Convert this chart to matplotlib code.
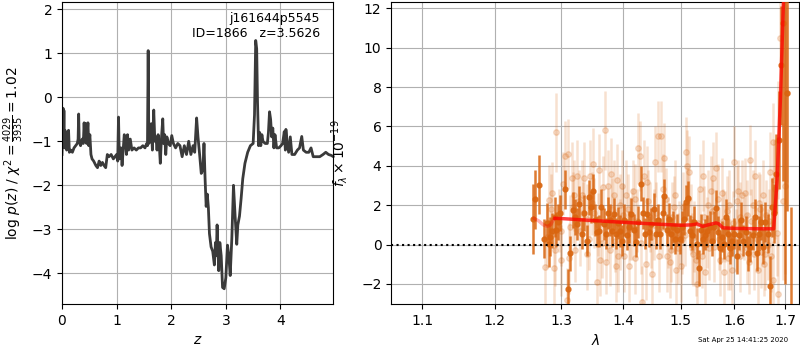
import numpy as np
import matplotlib
matplotlib.use('Agg')
import matplotlib.pyplot as plt
from matplotlib.ticker import NullLocator

# ---- p(z) curve ----
pz_z = [0.00, 0.01, 0.02, 0.025, 0.035, 0.045, 0.055, 0.065, 0.075, 0.085,
        0.095, 0.105, 0.12, 0.135, 0.16, 0.19, 0.22, 0.25, 0.28, 0.295,
        0.305, 0.315, 0.34, 0.37, 0.39, 0.405, 0.42, 0.435, 0.45, 0.475,
        0.49, 0.51, 0.53, 0.55, 0.58, 0.62, 0.65, 0.68, 0.71, 0.74,
        0.77, 0.80, 0.83, 0.86, 0.90, 0.94, 0.97, 1.00, 1.02, 1.035,
        1.05, 1.08, 1.10, 1.14, 1.16, 1.18, 1.20, 1.22, 1.25, 1.28,
        1.32, 1.36, 1.40, 1.44, 1.48, 1.52, 1.55, 1.565, 1.578, 1.59,
        1.61, 1.635, 1.655, 1.68, 1.70, 1.72, 1.74, 1.76, 1.78, 1.80,
        1.82, 1.845, 1.86, 1.88, 1.90, 1.92, 1.95, 1.98, 2.01, 2.04,
        2.08, 2.12, 2.16, 2.20, 2.24, 2.28, 2.32, 2.36, 2.40, 2.43,
        2.465, 2.49, 2.52, 2.55, 2.58, 2.60, 2.62, 2.64, 2.66, 2.68,
        2.70, 2.73, 2.76, 2.79, 2.81, 2.825, 2.84, 2.87, 2.89, 2.915,
        2.94, 2.97, 3.00, 3.03, 3.055, 3.08, 3.11, 3.14, 3.17, 3.20,
        3.22, 3.25, 3.28, 3.31, 3.35, 3.40, 3.45, 3.50, 3.525, 3.547,
        3.565, 3.58, 3.60, 3.62, 3.64, 3.66, 3.68, 3.72, 3.76, 3.78,
        3.80, 3.82, 3.84, 3.86, 3.88, 3.90, 3.93, 3.97, 4.01, 4.04,
        4.07, 4.09, 4.10, 4.12, 4.15, 4.18, 4.21, 4.26, 4.31, 4.35,
        4.39, 4.42, 4.47, 4.52, 4.56, 4.60, 4.65, 4.72, 4.78, 4.83,
        4.88, 4.93, 4.97]
pz_logp = [-1.30, -0.90, -0.25, -1.10, -0.30, -1.15, -0.75, -1.15, -0.85, -1.20,
           -0.80, -1.15, -0.75, -1.25, -1.20, -1.25, -1.15, -1.10, -1.05, -0.95,
           -0.38, -1.00, -1.10, -0.95, -1.05, -0.58, -1.00, -0.60, -1.05, -0.58,
           -1.10, -0.85, -1.30, -1.40, -1.45, -1.55, -1.60, -1.45, -1.55, -1.48,
           -1.55, -1.60, -1.30, -1.35, -1.30, -1.40, -1.35, -1.30, -1.45, -0.45,
           -1.40, -1.15, -1.55, -0.85, -0.95, -1.30, -0.85, -1.20, -0.95, -1.20,
           -1.15, -1.20, -1.15, -1.15, -1.10, -1.15, -1.05, -1.10, 1.06, -1.05,
           -1.00, -0.60, -1.20, -0.29, -1.00, -0.90, -1.20, -0.85, -1.05, -1.50,
           -0.95, -0.49, -1.05, -0.85, -1.30, -0.90, -1.05, -1.10, -0.87, -1.05,
           -1.15, -1.05, -1.10, -1.35, -1.10, -1.30, -1.00, -1.30, -1.10, -1.25,
           -0.47, -0.90, -1.30, -1.73, -1.65, -1.05, -1.85, -2.48, -2.20, -2.50,
           -3.10, -3.40, -3.50, -3.81, -3.30, -3.60, -2.90, -3.94, -3.30, -3.60,
           -4.32, -4.35, -4.10, -3.36, -3.60, -4.05, -3.20, -2.00, -2.70, -3.34,
           -2.90, -2.70, -2.30, -1.85, -1.50, -1.25, -1.10, -1.05, -0.40, 1.29,
           1.10, -0.10, -1.10, -0.80, -1.10, -0.85, -1.00, -1.05, -1.05, -0.80,
           -0.33, -0.50, -0.90, -0.70, -1.15, -0.85, -1.15, -1.15, -1.10, -1.05,
           -0.78, -1.20, -0.73, -1.00, -1.25, -0.90, -1.30, -1.30, -1.20, -1.15,
           -0.89, -1.20, -1.25, -1.25, -1.15, -1.35, -1.35, -1.35, -1.30, -1.25,
           -1.30, -1.32, -1.35]

# ---- spectrum, binned points (dark) ----
sp_wave = [1.257, 1.260, 1.266, 1.273, 1.277, 1.280, 1.283, 1.286, 1.290, 1.292,
           1.295, 1.298, 1.306, 1.310, 1.314, 1.318, 1.321, 1.325, 1.328, 1.332,
           1.336, 1.340, 1.343, 1.347, 1.350, 1.354, 1.357, 1.360, 1.364, 1.368,
           1.371, 1.375, 1.378, 1.381, 1.384, 1.388, 1.392, 1.395, 1.398, 1.402,
           1.406, 1.410, 1.414, 1.418, 1.422, 1.425, 1.430, 1.433, 1.437, 1.440,
           1.444, 1.448, 1.452, 1.456, 1.460, 1.464, 1.468, 1.471, 1.475, 1.479,
           1.483, 1.487, 1.490, 1.494, 1.498, 1.502, 1.506, 1.510, 1.513, 1.517,
           1.521, 1.525, 1.529, 1.533, 1.537, 1.541, 1.545, 1.549, 1.553, 1.557,
           1.561, 1.565, 1.568, 1.572, 1.576, 1.580, 1.584, 1.588, 1.592, 1.596,
           1.600, 1.605, 1.609, 1.613, 1.617, 1.622, 1.626, 1.631, 1.635, 1.639,
           1.643, 1.648, 1.652, 1.656, 1.660, 1.665, 1.669, 1.673, 1.678, 1.682,
           1.687, 1.691, 1.695, 1.700, 1.704, 1.712]
sp_flux = [1.30, 2.30, 3.05, 0.30, 1.10, 0.05, 0.40, 0.70, 1.40, 0.75,
           1.15, 1.60, 2.80, -2.25, -0.45, 1.75, 1.40, 1.05, 2.05, 0.55,
           1.60, 0.20, 2.40, 1.90, 2.70, 1.25, 0.65, 0.70, 1.90, 1.05,
           0.55, 1.60, 1.25, 0.70, 1.55, 0.55, 1.10, 0.70, 0.20, 1.25,
           0.50, 0.90, 1.55, 0.75, 0.15, 1.15, 3.10, 1.60, 0.55, 1.55,
           0.65, 1.05, 1.80, 0.55, 1.25, 0.55, 1.60, 2.45, 0.75, 1.30,
           0.55, 0.90, 0.30, 0.75, 0.30, 0.90, 1.30, 2.15, 2.35, 0.70,
           0.50, 1.15, 0.05, -1.20, 0.75, 0.30, 0.50, 0.70, 0.90, 0.20,
           0.90, 1.85, 0.65, -0.20, 0.40, 0.05, 1.40, 0.55, -0.20, 0.20,
           0.55, -0.60, 0.50, 1.25, 0.20, 0.65, -0.45, -0.10, 0.50, 1.40,
           -0.45, 0.55, 1.15, -0.10, 1.15, 0.55, -2.10, 1.90, 1.60, 3.60,
           5.30, 9.10, 11.25, 14.0, 7.70, -3.50]
sp_err = [1.80, 1.50, 1.50, 1.00, 1.00, 1.20, 1.00, 0.90, 1.00, 0.90,
          0.90, 0.90, 1.00, 1.00, 0.90, 0.90, 0.90, 0.80, 0.90, 0.80,
          0.90, 0.80, 0.90, 0.80, 0.90, 0.80, 0.80, 0.80, 0.90, 0.80,
          0.80, 0.80, 0.80, 0.80, 0.80, 0.80, 0.80, 0.80, 0.80, 0.80,
          0.80, 0.80, 0.80, 0.80, 0.80, 0.80, 0.90, 0.80, 0.80, 0.80,
          0.80, 0.80, 0.80, 0.80, 0.80, 0.80, 0.80, 0.90, 0.80, 0.80,
          0.80, 0.80, 0.80, 0.80, 0.80, 0.80, 0.80, 0.90, 0.90, 0.80,
          0.80, 0.80, 0.80, 0.90, 0.80, 0.80, 0.80, 0.80, 0.80, 0.80,
          0.80, 0.90, 0.80, 0.80, 0.80, 0.80, 0.90, 0.80, 0.80, 0.80,
          0.80, 0.90, 0.80, 0.90, 0.80, 0.80, 0.90, 0.80, 0.80, 0.90,
          0.90, 0.90, 0.90, 0.90, 1.00, 1.00, 1.50, 1.50, 1.50, 2.00,
          2.50, 3.00, 8.00, 16.0, 6.00, 5.40]

# ---- spectrum, unbinned points (light) ----
raw_wave = [1.275, 1.280, 1.284, 1.288, 1.290, 1.292, 1.300, 1.300, 1.305, 1.310,
            1.312, 1.316, 1.318, 1.320, 1.325, 1.330, 1.332, 1.336, 1.340, 1.340,
            1.345, 1.350, 1.352, 1.356, 1.360, 1.362, 1.365, 1.370, 1.374, 1.375,
            1.378, 1.380, 1.384, 1.388, 1.390, 1.392, 1.395, 1.398, 1.402, 1.405,
            1.408, 1.410, 1.415, 1.420, 1.420, 1.425, 1.428, 1.432, 1.435, 1.438,
            1.440, 1.445, 1.450, 1.452, 1.455, 1.460, 1.462, 1.465, 1.468, 1.470,
            1.475, 1.478, 1.480, 1.485, 1.490, 1.492, 1.495, 1.500, 1.502, 1.505,
            1.510, 1.512, 1.515, 1.518, 1.520, 1.525, 1.528, 1.530, 1.535, 1.540,
            1.545, 1.548, 1.550, 1.555, 1.560, 1.562, 1.565, 1.568, 1.572, 1.576,
            1.580, 1.582, 1.585, 1.590, 1.592, 1.595, 1.600, 1.605, 1.610, 1.610,
            1.615, 1.620, 1.625, 1.625, 1.630, 1.635, 1.638, 1.640, 1.645, 1.650,
            1.652, 1.655, 1.660, 1.662, 1.665, 1.670, 1.675, 1.675, 1.680, 1.685,
            1.685, 1.690, 1.695, 1.700, 1.705,
            1.278, 1.286, 1.296, 1.303, 1.309, 1.313, 1.322, 1.328, 1.334, 1.343,
            1.348, 1.358, 1.367, 1.372, 1.382, 1.386, 1.394, 1.400, 1.412, 1.417,
            1.423, 1.430, 1.442, 1.447, 1.457, 1.466, 1.473, 1.483, 1.488, 1.497,
            1.507, 1.514, 1.522, 1.532, 1.538, 1.543, 1.552, 1.558, 1.570, 1.578,
            1.588, 1.598, 1.603, 1.607, 1.618, 1.628, 1.633, 1.643, 1.648, 1.658,
            1.668, 1.672, 1.678, 1.683]
raw_flux = [-1.15, 2.25, 1.80, -1.20, -0.30, 5.70, 0.70, -0.80, 4.50, 4.60,
            -0.70, 3.40, 1.90, 2.50, 3.50, 0.70, 2.50, 3.40, -0.50, 1.30,
            3.50, 4.10, 1.60, -1.90, 3.80, -0.80, 0.10, 5.80, 3.00, 1.00,
            -0.30, 3.60, 2.50, -1.10, 3.30, -0.60, 0.50, 3.00, -0.60, 2.50,
            1.80, -1.10, 1.00, 2.30, -0.70, 4.90, 4.50, -2.90, 3.50, -1.00,
            3.20, 1.40, -1.50, 1.00, 4.20, 5.50, -0.60, 5.50, 2.80, 4.40,
            -0.60, 0.60, -0.90, 1.40, 2.50, -1.30, -0.20, -1.10, 0.30, 1.90,
            4.70, 4.00, 3.70, 1.30, -0.20, 0.40, -0.80, -2.00, 2.80, 3.50,
            -1.40, 0.60, 2.00, 2.70, 3.40, -0.10, 3.90, 2.30, -0.80, 2.60,
            -1.40, 0.90, 1.70, 2.00, -0.50, -1.30, 4.20, 2.20, -0.60, 1.40,
            2.50, 2.60, 1.50, -0.20, 4.30, 2.00, -0.50, 3.50, -1.30, 1.80,
            -0.40, 2.50, -0.50, 1.50, 0.00, 3.70, 5.20, -1.80, 2.80, 5.30,
            -2.50, 10.50, 2.20, 3.00, 7.70,
            0.40, 2.60, 1.20, 3.10, -2.80, 0.90, -0.30, 2.20, 1.60, 0.30,
            2.10, 1.00, 2.90, -0.90, 1.80, 0.20, 2.00, 1.50, 0.80, 2.70,
            1.20, 0.10, 2.20, 0.40, 1.60, 0.90, 2.30, -0.30, 1.90, 0.60,
            0.50, 2.30, -0.50, 1.10, -0.60, 1.40, -0.20, 1.70, 0.30, 1.20,
            -0.70, 1.10, 0.20, 2.70, 0.80, -0.90, 1.20, 0.30, 2.10, -1.00,
            1.20, -0.60, 3.30, 0.60]
raw_err = [2.0, 1.8, 1.8, 1.8, 1.8, 2.0, 1.8, 1.8, 1.8, 1.8,
           1.8, 1.8, 1.8, 1.8, 1.8, 1.8, 1.8, 1.8, 1.8, 1.8,
           1.8, 1.8, 1.8, 1.8, 1.8, 1.8, 1.8, 2.0, 1.8, 1.8,
           1.8, 1.8, 1.8, 1.8, 1.8, 1.8, 1.8, 1.8, 1.8, 1.8,
           1.8, 1.8, 1.8, 1.8, 1.8, 1.8, 1.8, 1.8, 1.8, 1.8,
           1.8, 1.8, 1.8, 1.8, 1.8, 1.8, 1.8, 1.8, 1.8, 1.8,
           1.8, 1.8, 1.8, 1.8, 1.8, 1.8, 1.8, 1.8, 1.8, 1.8,
           1.8, 1.8, 1.8, 1.8, 1.8, 1.8, 1.8, 1.8, 1.8, 1.8,
           1.8, 1.8, 1.8, 1.8, 1.8, 1.8, 1.8, 1.8, 1.8, 1.8,
           1.8, 1.8, 1.8, 1.8, 1.8, 1.8, 1.8, 1.8, 1.8, 1.8,
           1.8, 1.8, 1.8, 1.8, 1.8, 1.8, 1.8, 1.8, 1.8, 1.8,
           1.8, 1.8, 1.8, 1.8, 1.8, 2.0, 2.0, 2.0, 2.5, 3.0,
           3.0, 4.0, 4.0, 4.5, 4.5,
           1.6, 1.6, 1.6, 1.6, 1.6, 1.6, 1.6, 1.6, 1.6, 1.6,
           1.6, 1.6, 1.6, 1.6, 1.6, 1.6, 1.6, 1.6, 1.6, 1.6,
           1.6, 1.6, 1.6, 1.6, 1.6, 1.6, 1.6, 1.6, 1.6, 1.6,
           1.6, 1.6, 1.6, 1.6, 1.6, 1.6, 1.6, 1.6, 1.6, 1.6,
           1.6, 1.6, 1.6, 1.6, 1.6, 1.6, 1.6, 1.6, 1.6, 1.6,
           1.6, 1.8, 2.0, 2.2]

# ---- best-fit model ----
model_edge_wave = [1.258, 1.265, 1.272, 1.278, 1.283, 1.288, 1.290]
model_edge_flux = [1.33, 1.20, 1.00, 0.92, 1.00, 1.28, 1.33]
model_wave = [1.290, 1.300, 1.350, 1.400, 1.450, 1.500, 1.520, 1.530, 1.540,
              1.550, 1.565, 1.570, 1.578, 1.600, 1.650, 1.677, 1.684, 1.6905,
              1.697, 1.700]
model_flux = [1.33, 1.32, 1.22, 1.13, 1.05, 0.98, 1.00, 1.05, 0.92,
              1.00, 1.10, 1.05, 0.85, 0.82, 0.80, 0.80, 3.30, 7.30,
              12.5, 15.0]

target = 'j161644p5545'
obj_id = 1866
zbest = 3.5626
chi2, dof = 4029, 3935
stamp = 'Sat Apr 25 14:41:25 2020'

col = '#d9650f'

fig = plt.figure(figsize=(8, 3.5), dpi=100)
ax1 = fig.add_axes([0.0775, 0.131, 0.339, 0.864])
ax2 = fig.add_axes([0.489, 0.131, 0.5100, 0.864])

# left: p(z)
ax1.plot(pz_z, pz_logp, color='#3a3a3a', lw=2)
ax1.set_xlim(0, 4.966)
ax1.set_ylim(-4.70, 2.17)
ax1.set_xticks([0, 1, 2, 3, 4])
ax1.set_xlabel('$z$')
ax1.set_ylabel(r'log $p(z)$ / $\chi^2=\frac{%d}{%d}=%.2f$' % (chi2, dof, chi2 / dof))
ax1.grid(True)
ax1.text(0.95, 0.965, '%s\nID=%d   z=%.4f' % (target, obj_id, zbest),
         transform=ax1.transAxes, ha='right', va='top', fontsize=9)

# right: spectrum
ax2.errorbar(raw_wave, raw_flux, yerr=raw_err, fmt='o', color=col, alpha=0.2,
             markersize=4, elinewidth=1.8, capsize=0, zorder=2)
ax2.errorbar(sp_wave, sp_flux, yerr=sp_err, fmt='o', color=col, alpha=0.85,
             markersize=3.5, elinewidth=1.8, capsize=0, zorder=3)
ax2.plot(model_edge_wave, model_edge_flux, color='r', alpha=0.3, lw=2.5, zorder=4)
ax2.plot(model_wave, model_flux, color='r', alpha=0.75, lw=2.5, zorder=4)
ax2.axhline(0, color='k', ls=':', lw=1.5, zorder=5)

ax2.set_xscale('log')
ax2.set_xlim(1.0598, 1.7292)
ax2.set_ylim(-3.03, 12.34)
xt = [1.1, 1.2, 1.3, 1.4, 1.5, 1.6, 1.7]
ax2.set_xticks(xt)
ax2.set_xticklabels(['%.1f' % v for v in xt])
ax2.xaxis.set_minor_locator(NullLocator())
ax2.set_yticks([-2, 0, 2, 4, 6, 8, 10, 12])
ax2.set_xlabel(r'$\lambda$')
ax2.set_ylabel(r'$f_\lambda\times 10^{-19}$', labelpad=8)
ax2.grid(True)

fig.text(0.985, 0.028, stamp, ha='right', va='center', fontsize=5)

fig.savefig('out.png', dpi=100)
